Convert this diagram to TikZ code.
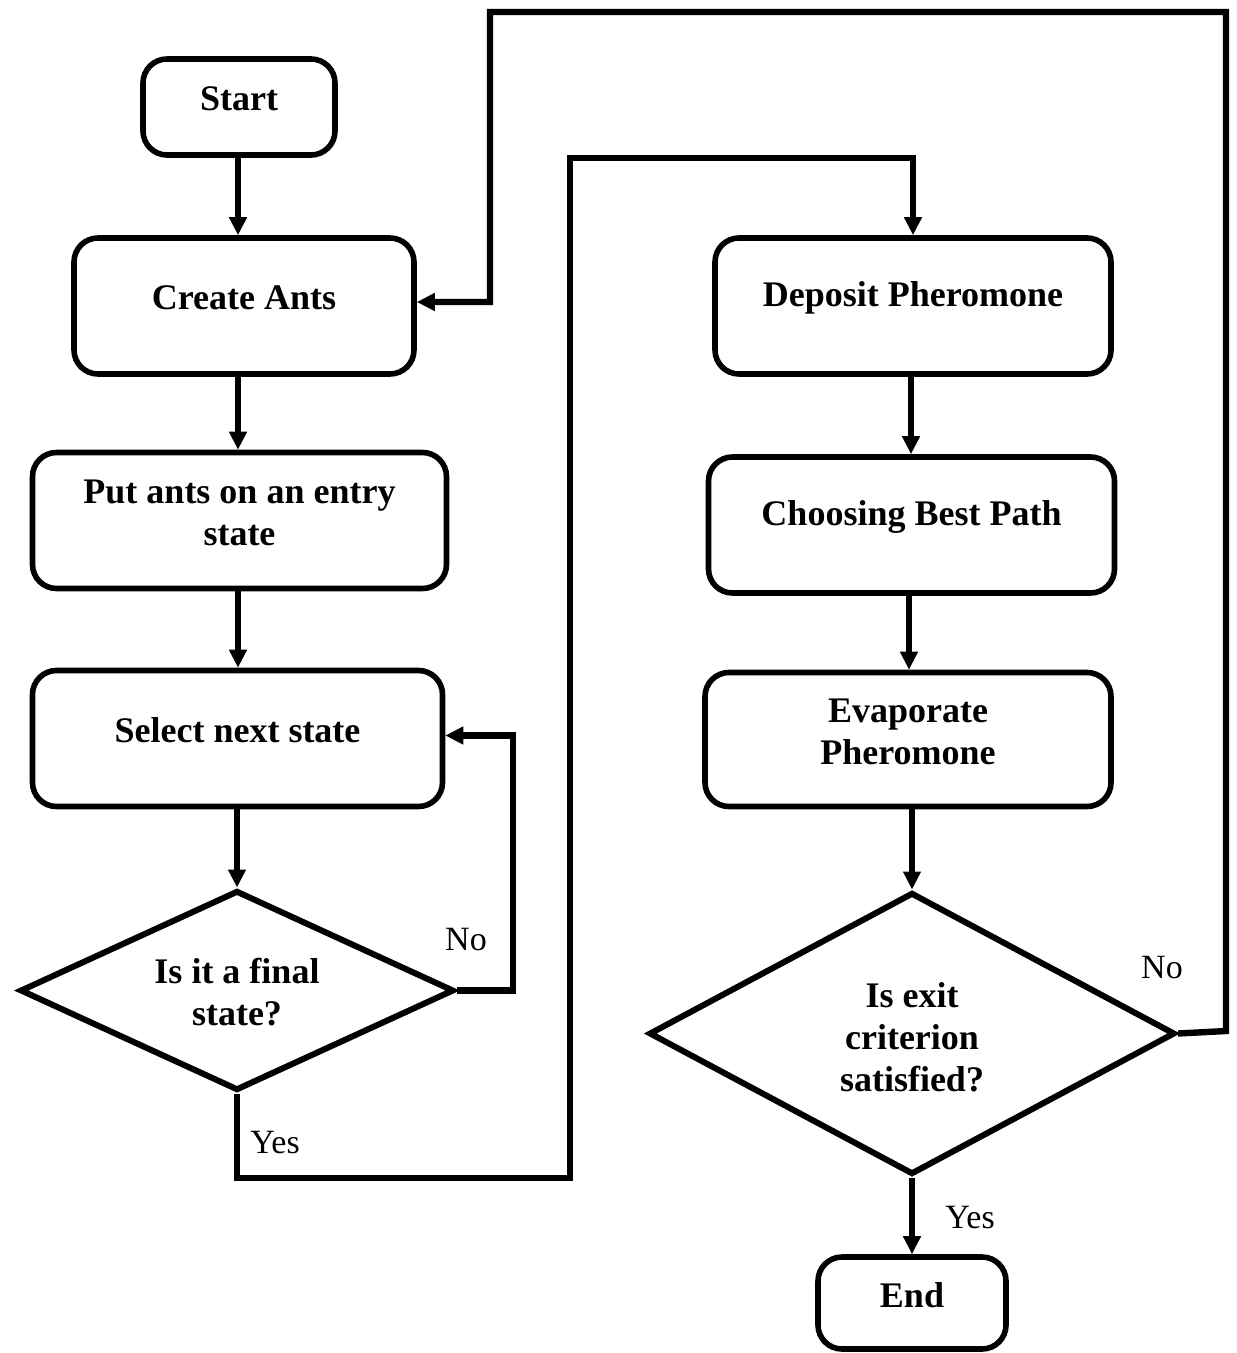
\documentclass[tikz,border=0pt]{standalone}
\usepackage{fontspec}
\setmainfont{Liberation Serif}
\usetikzlibrary{shapes.geometric,arrows.meta}
\begin{document}
\begin{tikzpicture}[x=0.5pt,y=-0.5pt,
  box/.style={draw,line width=2.8pt,rounded corners=12pt,inner sep=0pt},
  dia/.style={draw,line width=3pt,diamond,inner sep=0pt},
  txt/.style={font=\fontsize{18}{21}\selectfont\bfseries,align=center,yshift=4pt},
  lab/.style={font=\fontsize{17}{20}\selectfont},
  line/.style={line width=3pt},
  arr/.style={line width=3.2pt,-{Triangle[length=9pt,width=8.5pt]}}]
\useasboundingbox (0,0) rectangle (1236,1353);
% boxes
\node[box,minimum width=96pt,minimum height=48pt,label={[txt]center:Start}] (start) at (239,107) {};
\node[box,minimum width=170pt,minimum height=68pt,label={[txt]center:Create Ants}] (create) at (244,306) {};
\node[box,minimum width=207pt,minimum height=68pt,label={[txt]center:Put ants on an entry\\state}] (put) at (239.5,520.5) {};
\node[box,minimum width=205pt,minimum height=68pt,label={[txt]center:Select next state}] (select) at (237.5,738.5) {};
\node[dia,minimum width=217pt,minimum height=100pt,label={[txt,yshift=-5pt]center:Is it a final\\state?}] (d1) at (237,990.5) {};
\node[box,minimum width=198pt,minimum height=68pt,label={[txt]center:Deposit Pheromone}] (deposit) at (913,306) {};
\node[box,minimum width=203pt,minimum height=68pt,label={[txt]center:Choosing Best Path}] (choose) at (911.5,525) {};
\node[box,minimum width=203pt,minimum height=67pt,label={[txt]center:Evaporate\\Pheromone}] (evap) at (908,739.5) {};
\node[dia,minimum width=263pt,minimum height=141pt,label={[txt,yshift=-6pt]center:Is exit\\criterion\\satisfied?}] (d2) at (912,1033.5) {};
\node[box,minimum width=94pt,minimum height=46pt,label={[txt]center:End}] (end) at (912,1303) {};
% labels
\node[lab] (no1) at (466,940) {No};
\node[lab] (no2) at (1162,968) {No};
\node[lab] (yes1) at (275,1143) {Yes};
\node[lab] (yes2) at (970,1218) {Yes};
% coordinates
\coordinate (y1) at (570,1178);
\coordinate (y2) at (570,158);
\coordinate (n1) at (1226,1031);
\coordinate (n2) at (1226,12);
\coordinate (n3) at (490,12);
% connectors
\draw[arr] (start.south -| 238,0) -- (create.north -| 238,0);
\draw[arr] (create.south -| 238,0) -- (put.north -| 238,0);
\draw[arr] (put.south -| 238,0) -- (select.north -| 238,0);
\draw[arr] (select.south -| d1.north) -- (d1.north);
\draw[arr] (d1.east) -- ++(56,0) |- ([yshift=1.5pt]select.east);
\draw[arr,line join=miter] (d1.south) |- (y1) -- (y2) -| (deposit.north);
\draw[arr] (deposit.south -| 911,0) -- (choose.north -| 911,0);
\draw[arr] (choose.south -| 909,0) -- (evap.north -| 909,0);
\draw[arr] (evap.south -| d2.north) -- (d2.north);
\draw[arr] (d2.south) -- (end.north);
\draw[arr,line join=miter] (d2.east) -- (n1) -- (n2) -- (n3) |- ([yshift=2pt]create.east);
\end{tikzpicture}
\end{document}
